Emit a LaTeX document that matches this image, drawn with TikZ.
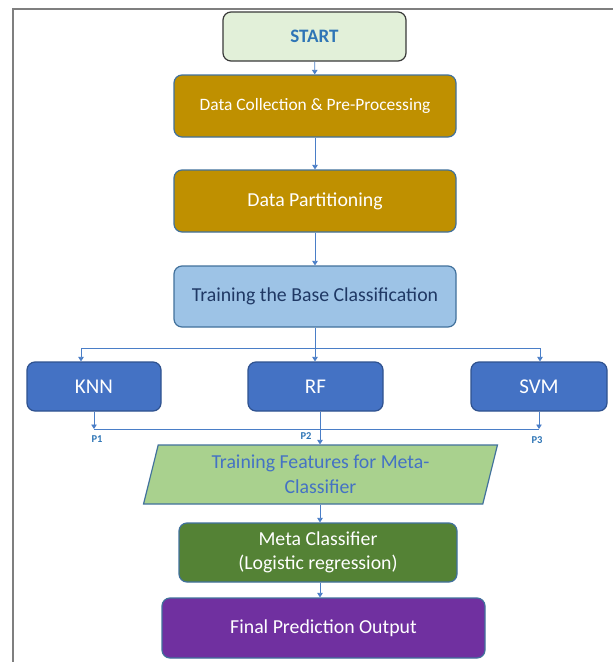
\documentclass[tikz,border=0pt]{standalone}
\usepackage{fontspec}
\setmainfont{Carlito}
\usetikzlibrary{arrows.meta,shapes.geometric}

\definecolor{framegray}{HTML}{7F7F7F}
\definecolor{startfill}{HTML}{E2F0D9}
\definecolor{startline}{HTML}{3A3A3A}
\definecolor{starttext}{HTML}{2E75B6}
\definecolor{goldfill}{HTML}{BF9000}
\definecolor{edgeblue}{HTML}{41719C}
\definecolor{tbfill}{HTML}{9DC3E6}
\definecolor{navytext}{HTML}{1F3864}
\definecolor{algfill}{HTML}{4472C4}
\definecolor{algline}{HTML}{2F528F}
\definecolor{parafill}{HTML}{A9D18E}
\definecolor{paratext}{HTML}{4472C4}
\definecolor{metafill}{HTML}{548235}
\definecolor{finalfill}{HTML}{7030A0}
\definecolor{arrowblue}{HTML}{4A7EC7}
\definecolor{labelblue}{HTML}{2E75B6}

\tikzset{
  box/.style={rectangle, rounded corners=8pt, line width=1.2pt, draw=edgeblue,
    align=center, inner sep=2pt, text=white,
    font=\fontsize{19.8}{23.5}\selectfont},
  startbox/.style={box, draw=startline, fill=startfill, text=starttext,
    font=\fontsize{19}{22}\selectfont\bfseries,
    minimum width=183pt, minimum height=49pt},
  goldbox/.style={box, fill=goldfill, minimum width=282pt, minimum height=62pt},
  tbbox/.style={box, fill=tbfill, text=navytext, minimum width=282pt, minimum height=61pt},
  algbox/.style={box, fill=algfill, draw=algline, minimum height=49pt,
    font=\fontsize{21}{25}\selectfont},
  parabox/.style={trapezium, trapezium left angle=75.7, trapezium right angle=104.3,
    trapezium stretches=true, draw=edgeblue, line width=1.2pt, fill=parafill,
    text=paratext, align=center, inner sep=0pt,
    minimum width=355pt, minimum height=59pt,
    font=\fontsize{19.8}{25}\selectfont},
  metabox/.style={box, fill=metafill, minimum width=278pt, minimum height=59pt},
  finalbox/.style={box, fill=finalfill, minimum width=323pt, minimum height=60pt},
  arr/.style={draw=arrowblue, line width=0.8pt,
    -{Triangle[width=5.5pt,length=4.5pt,fill=arrowblue]}},
  link/.style={draw=arrowblue, line width=0.8pt},
  plabel/.style={text=labelblue, font=\fontsize{10.5}{12}\selectfont\bfseries, inner sep=0pt}
}

\begin{document}
\begin{tikzpicture}[x=1pt, y=-1pt]
\useasboundingbox (0,0) rectangle (613,662);
\fill[white] (0,0) rectangle (613,662);

% page frame (left and top edges)
\draw[framegray, line width=1.5pt] (13,662) -- (13,9) -- (613,9);

% main flow
\node[startbox] (start) at (314.5,36.5) {START};
\node[goldbox, font=\fontsize{17.4}{21}\selectfont] (collect) at (315,106) {Data Collection \& Pre-Processing};
\node[goldbox]  (partition) at (315,201) {Data Partitioning};
\node[tbbox]    (train) at (315,296.5) {Training the Base Classification};

% base classifiers
\node[algbox, minimum width=134pt] (knn) at (94,386.5) {KNN};
\node[algbox, minimum width=135pt] (rf)  at (315.5,386.5) {RF};
\node[algbox, minimum width=136pt] (svm) at (539,386.5) {SVM};

% meta stage
\node[parabox]  (feat)  at (320.5,474.5) {Training Features for Meta-\\Classifier};
\node[metabox]  (meta)  at (318,552.5) {Meta Classifier\\(Logistic regression)};
\node[finalbox] (final) at (323.5,628) {Final Prediction Output};

% junction points
\coordinate (split) at (315,348);
\coordinate (splitL) at (81,348);
\coordinate (splitR) at (540,348);
\coordinate (joinL) at (94,429);
\coordinate (joinR) at (539,429);

\draw[arr] (start) -- (collect);
\draw[arr] (collect) -- (partition);
\draw[arr] (partition) -- (train);

% fan-out to the base classifiers
\draw[link] (train.south) -- (split);
\draw[link] (splitL) -- (splitR);
\draw[arr] (splitL) -- (splitL |- knn.north);
\draw[arr] (split) -- (split |- rf.north);
\draw[arr] (splitR) -- (splitR |- svm.north);

% predictions P1, P2, P3
\draw[arr] (knn.south) -- (joinL);
\draw[arr] (svm.south) -- (joinR);
\draw[link] (joinL) -- (joinR);
\draw[arr] ([xshift=4.5pt]rf.south) -- ([xshift=4.5pt]rf.south |- feat.north);
\node[plabel] (p1) at (97,439) {P1};
\node[plabel] (p2) at (306,436) {P2};
\node[plabel] (p3) at (537,440) {P3};

\draw[arr] (feat.south -| meta.north) ++(2pt,0) coordinate (fs) -- (fs |- meta.north);
\draw[arr] ([xshift=2pt]meta.south) -- ([xshift=2pt]meta.south |- final.north);
\end{tikzpicture}
\end{document}
